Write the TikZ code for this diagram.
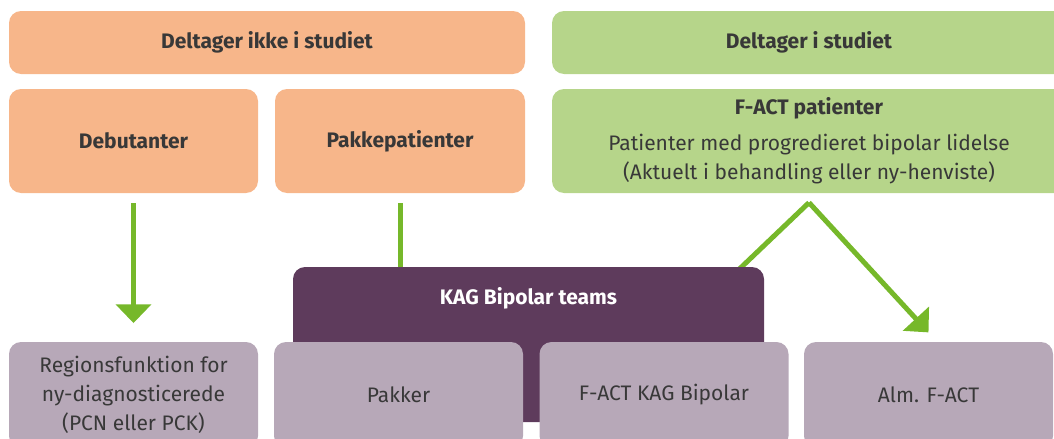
\documentclass[tikz,border=0pt]{standalone}
\usepackage{fontspec}
\setmainfont{Fira Sans}
\usetikzlibrary{arrows.meta}
\usetikzlibrary{positioning}
\definecolor{orangefarve}{HTML}{F7B68A}
\definecolor{groenfarve}{HTML}{B6D58A}
\definecolor{lillafarve}{HTML}{5E3B5C}
\definecolor{lysfarve}{HTML}{B7A8B8}
\definecolor{pilfarve}{HTML}{76B82A}
\definecolor{tekstfarve}{HTML}{383838}

\begin{document}
\begin{tikzpicture}
		[x=0.75pt, y=-0.75pt,
		font=\fontsize{15.75pt}{21.75pt}\selectfont,
		boks/.style = {rounded corners=9pt, inner sep=0pt, align=center, text=tekstfarve},
		orangeboks/.style = {boks, fill=orangefarve, font=\fontsize{15.75pt}{21.75pt}\selectfont\bfseries},
		groenboks/.style = {boks, fill=groenfarve},
		lillaboks/.style = {boks, fill=lillafarve},
		lysboks/.style = {boks, fill=lysfarve, minimum width=186.75pt, minimum height=79.5pt},
		pil/.style = {draw=pilfarve, line width=3.75pt},
		> = {Triangle[width=26pt,length=14pt]}
		]
	\clip (0,0) rectangle (1054,439);
	% oeverste raekke
	\node[orangeboks, minimum width=387pt, minimum height=47.25pt] (ikke) at (267,42.5) {Deltager ikke i studiet};
	\node[groenboks, minimum width=385.5pt, minimum height=47.25pt, font=\fontsize{15.75pt}{21.75pt}\selectfont\bfseries] (deltager) at (809,42.5) {Deltager i studiet};
	% patientgrupper
	\node[orangeboks, minimum width=186.75pt, minimum height=78pt] (debut) at (133.5,141) {Debutanter};
	\node[orangeboks, minimum width=187.5pt, minimum height=78pt] (pakke) at (400,141) {Pakkepatienter};
	\node[groenboks, minimum width=385.5pt, minimum height=78pt] (fact) at (809,141)
		{\textbf{F-ACT patienter}\\[5pt] Patienter med progredieret bipolar lidelse\\ (Aktuelt i behandling eller ny-henviste)};
	\coordinate (split) at ([yshift=-7pt]fact.south);
	% linjer bag KAG boksen
	\draw[pil, shorten <=7.5pt] (pakke.south) -- (400,300);
	\draw[pil] (split) -- ++(-110,105);
	\node[lillaboks, minimum width=353.25pt, minimum height=116.25pt] (kag) at (528.5,344.5) {};
	\node[text=white, font=\fontsize{15.75pt}{21.75pt}\selectfont\bfseries] (kagtitel) at (528.5,298) {KAG Bipolar teams};
	% nederste raekke
	\node[lysboks] (region) at (133.5,395) {Regionsfunktion for\\ ny-diagnosticerede\\ (PCN eller PCK)};
	\node[lysboks] (pakker) at (398.5,395) {Pakker};
	\node[lysboks] (fkag) at (664,395) {F-ACT KAG Bipolar};
	\node[lysboks] (alm) at (928.5,395) {Alm. F-ACT};
	% pile
	\draw[pil, ->, shorten <=7.5pt, shorten >=14pt] (debut.south) -- (region.north);
	\draw[pil, ->] (split) -- ([yshift=7pt]alm.north);
\end{tikzpicture}
\end{document}
